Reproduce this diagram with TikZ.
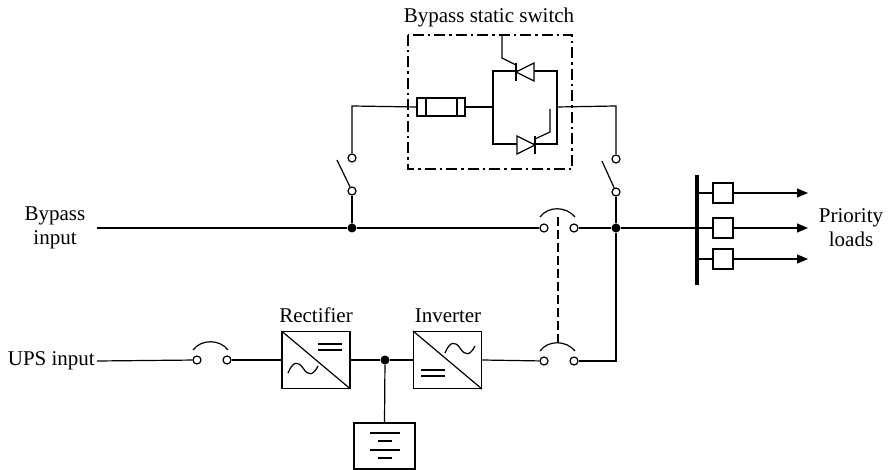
\documentclass[tikz,border=0pt]{standalone}
\usepackage{fontspec}
\setmainfont{Liberation Serif}
\usetikzlibrary{arrows.meta}
\begin{document}
\begin{tikzpicture}[x=1pt,y=-1pt,
  wire/.style={line width=1.2pt},
  contact/.style={circle,draw,line width=1.2pt,fill=white,inner sep=0pt,minimum size=8pt},
  jdot/.style={circle,fill=black,inner sep=0pt,minimum size=9pt},
  lbl/.style={font=\fontsize{21}{24}\selectfont,align=center,inner sep=0pt},
  conv/.style={draw,line width=1.2pt,minimum width=68pt,minimum height=57pt,inner sep=0pt},
  loadbox/.style={draw,line width=1.2pt,fill=white,minimum size=20pt,inner sep=0pt},
  mech/.style={line width=2.6pt,dash pattern=on 9pt off 4pt},
  ssbox/.style={line width=2.6pt,dash pattern=on 11pt off 4pt on 2.5pt off 4pt},
  load/.style={wire,-{Triangle[length=11pt,width=9pt]}},
  thy/.style={draw,line width=1.2pt,fill=white}
]
\useasboundingbox (0,0) rectangle (895,470);

% ---------- labels
\node[lbl] (tss) at (489,17) {Bypass static switch};
\node[lbl] (tbp) at (55,228) {Bypass\\input};
\node[lbl,anchor=east] (tups) at (95,361) {UPS input};
\node[lbl] (tpl) at (851,228) {Priority\\loads};
\node[lbl] (trec) at (316,315) {Rectifier};
\node[lbl] (tinv) at (448,316) {Inverter};

% ---------- coordinates
\coordinate (bpin) at (97,228);
\coordinate (upsin) at (97,361);
\coordinate (busT) at (697,175);
\coordinate (busB) at (697,285);
\coordinate (busM) at (697,228);
\coordinate (lcorner) at (352,106);
\coordinate (rcorner) at (616,106);
\coordinate (fuseL) at (417,107);
\coordinate (fuseR) at (465,107);
\coordinate (parL) at (493,107);
\coordinate (parR) at (557,107);
\coordinate (lowcorner) at (616,361);

% ---------- nodes
\node[jdot] (dL) at (352,228) {};
\node[jdot] (dR) at (616,228) {};
\node[jdot] (dB) at (385,360) {};
\node[contact] (sLb) at (352,191) {};
\node[contact] (sLt) at (352,158) {};
\node[contact] (sRb) at (616,192) {};
\node[contact] (sRt) at (616,159) {};
\node[contact] (cb1a) at (544,228) {};
\node[contact] (cb1b) at (574,228) {};
\node[contact] (cb2a) at (197,360) {};
\node[contact] (cb2b) at (227,360) {};
\node[contact] (cb3a) at (544,361) {};
\node[contact] (cb3b) at (574,361) {};
\node[conv] (rec) at (316,360) {};
\node[conv] (inv) at (447.5,360) {};
\node[draw,line width=1.2pt,minimum width=61pt,minimum height=46pt,inner sep=0pt] (bat) at (384.5,446) {};

% ---------- bypass line
\draw[wire] (bpin) -- (dL) -- (cb1a);
\draw[wire] (cb1b) -- (dR) -- (busM);
\draw[wire] (dL) -- (sLb);
\draw[wire] (sLb) -- (337,160);
\draw[wire] (sLt) -- (lcorner) -- (fuseL);
\draw[wire] (dR) -- (sRb);
\draw[wire] (sRb) -- (602,161);
\draw[wire] (sRt) -- (rcorner) -- (parR);
% breaker arcs
\draw[wire] (540,217) .. controls (548,206) and (566,206) .. (575,217);
\draw[wire] (540,351) .. controls (548,340) and (566,340) .. (575,351);
\draw[wire] (193,350) .. controls (201,339) and (220,339) .. (228,350);
% mechanical interlock
\draw[mech] (558,217) -- (558,344);

% ---------- static switch
\draw[wire] (417,98) rectangle (465,116);
\draw[wire] (426,98) -- (426,116);
\draw[wire] (457,98) -- (457,116);
\draw[wire] (fuseR) -- (parL);
\draw[wire] (493,71) rectangle (557,144);
% top thyristor (pointing left)
\draw[thy] (516,72) -- (534,63) -- (534,81) -- cycle;
\draw[wire] (516,63) -- (516,81);
\draw[wire] (516,65) -- (502,58) -- (502,35);
% bottom thyristor (pointing right)
\draw[thy] (535,145) -- (517,136) -- (517,154) -- cycle;
\draw[wire] (535,136) -- (535,154);
\draw[wire] (535,139) -- (550,132) -- (550,109);
% dash-dot box
\draw[ssbox] (408,35) rectangle (572,169);

% ---------- UPS line
\draw[wire] (upsin) -- (cb2a);
\draw[wire] (cb2b) -- (rec.west);
\draw[wire] (rec.east) -- (dB) -- (inv.west);
\draw[wire] (inv.east) -- (cb3a);
\draw[wire] (cb3b) -- (lowcorner) -- (dR);
\draw[wire] (dB) -- (bat.north);

% rectifier symbols
\draw[wire] (rec.north west) -- (rec.south east);
\draw[wire] (318,344) -- (342,344) (318,350) -- (342,350);
\draw[wire] (288,373) .. controls (293,361) and (298,361) .. (303,368) .. controls (308,376) and (313,376) .. (318,366);
% inverter symbols
\draw[wire] (inv.north west) -- (inv.south east);
\draw[wire] (421,370) -- (445,370) (421,376) -- (445,376);
\draw[wire] (445,353) .. controls (450,341) and (455,341) .. (460,348) .. controls (465,356) and (470,356) .. (475,346);
% battery symbol
\draw[wire] (370,433) -- (400,433) (378,441) -- (392,441) (370,450) -- (400,450) (378,458) -- (392,458);

% ---------- loads
\draw[line width=3.4pt] (busT) -- (busB);
\foreach \yy/\nm in {193/la,228/lb,259/lc}{
  \node[loadbox] (\nm) at (723,\yy) {};
  \draw[wire] (697,\yy) -- (\nm.west);
  \draw[load] (\nm.east) -- (808,\yy);
}
\end{tikzpicture}
\end{document}
